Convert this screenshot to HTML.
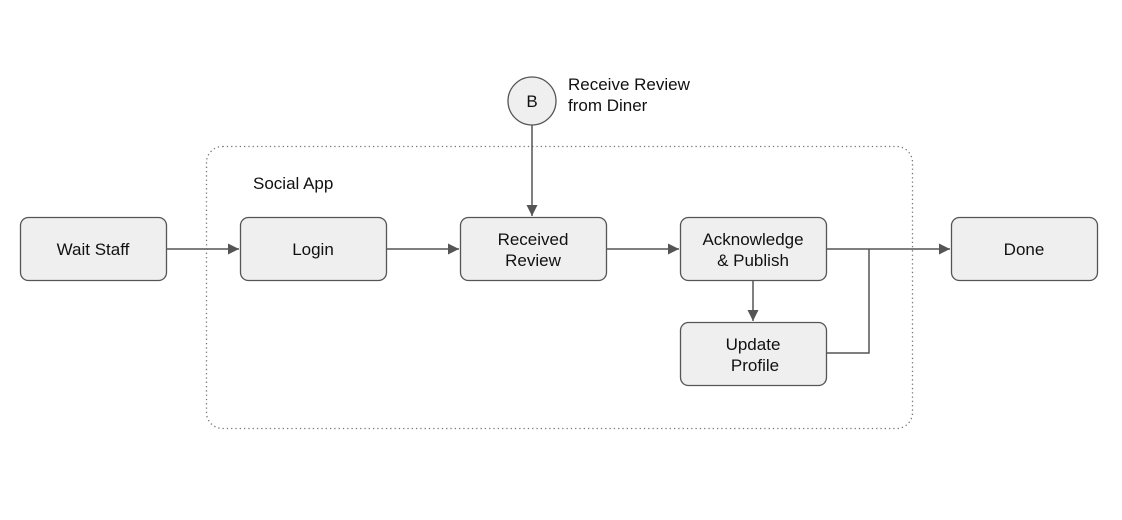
<!DOCTYPE html>
<html><head><style>
html,body{margin:0;padding:0;background:#fff;}
svg{display:block;}
text{font-family:"Liberation Sans",Arial,sans-serif;font-size:17px;fill:#111;}
</style></head><body>
<svg width="1122" height="520" viewBox="0 0 1122 520" xmlns="http://www.w3.org/2000/svg">
<defs><marker id="a" markerWidth="12" markerHeight="12" refX="11" refY="5.5" orient="auto" markerUnits="userSpaceOnUse"><path d="M0,0 L11,5.5 L0,11 z" fill="#555"/></marker></defs>
<rect x="206.5" y="146.5" width="706" height="282" rx="16" fill="none" stroke="#777" stroke-width="1.3" stroke-dasharray="1.3,3"/>
<text x="253" y="189">Social App</text>
<g fill="#efefef" stroke="#555" stroke-width="1.3">
<rect x="20.5" y="217.5" width="146" height="63" rx="8"/>
<rect x="240.5" y="217.5" width="146" height="63" rx="8"/>
<rect x="460.5" y="217.5" width="146" height="63" rx="8"/>
<rect x="680.5" y="217.5" width="146" height="63" rx="8"/>
<rect x="680.5" y="322.5" width="146" height="63" rx="8"/>
<rect x="951.5" y="217.5" width="146" height="63" rx="8"/>
<circle cx="532" cy="101" r="24"/>
</g>
<g stroke="#555" stroke-width="1.5" fill="none">
<line x1="167" y1="249" x2="239" y2="249" marker-end="url(#a)"/>
<line x1="387" y1="249" x2="459" y2="249" marker-end="url(#a)"/>
<line x1="607" y1="249" x2="679" y2="249" marker-end="url(#a)"/>
<line x1="827" y1="249" x2="950" y2="249" marker-end="url(#a)"/>
<line x1="532" y1="125" x2="532" y2="216" marker-end="url(#a)"/>
<line x1="753" y1="281" x2="753" y2="321" marker-end="url(#a)"/>
<polyline points="827,353 869,353 869,249"/>
</g>
<g text-anchor="middle">
<text x="532" y="107" font-size="14">B</text>
<text x="93" y="255">Wait Staff</text>
<text x="313" y="255">Login</text>
<text x="533" y="245">Received</text>
<text x="533" y="266">Review</text>
<text x="753" y="245">Acknowledge</text>
<text x="753" y="266">&amp; Publish</text>
<text x="753" y="350">Update</text>
<text x="755" y="371">Profile</text>
<text x="1024" y="255">Done</text>
</g>
<text x="568" y="90">Receive Review</text>
<text x="568" y="111">from Diner</text>
</svg>
</body></html>
